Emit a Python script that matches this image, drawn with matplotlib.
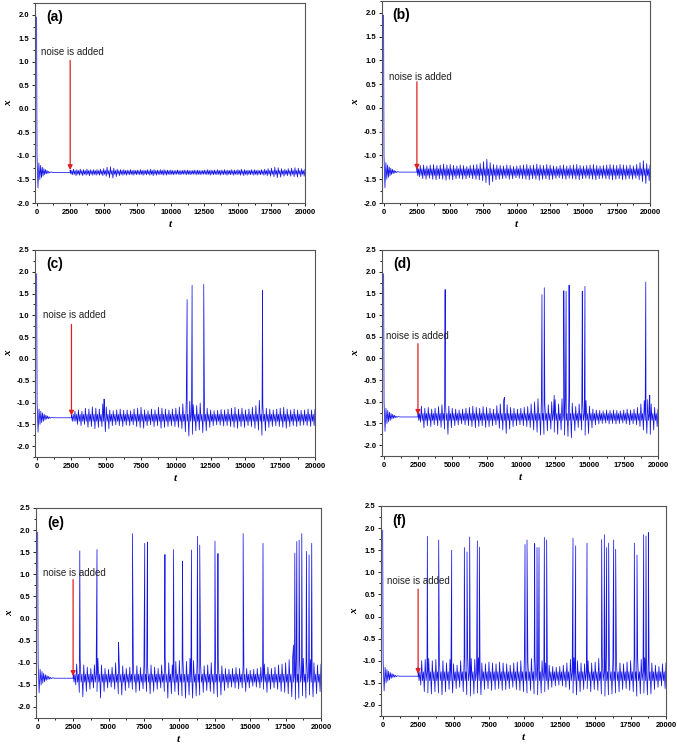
import numpy as np
import matplotlib
matplotlib.use("Agg")
import matplotlib.pyplot as plt
from matplotlib.ticker import MultipleLocator

plt.rcParams['font.family'] = ['Liberation Sans', 'DejaVu Sans']
plt.rcParams['font.weight'] = 'bold'

# start-up transient, the same in every panel (t < 2500)
trans_t = [0, 30, 100, 170, 240, 300, 360, 420, 480, 540, 600, 660, 720, 780,
           840, 900, 960, 1050, 1200, 2500]
trans_x = [1.95, -1.00, -1.68, -1.15, -1.50, -1.20, -1.46, -1.24, -1.43, -1.27,
           -1.40, -1.29, -1.38, -1.31, -1.37, -1.33, -1.36, -1.34, -1.35, -1.35]

base = -1.35
noise_t = 2500
win = 250  # width of one amplitude window

# outer swing amplitude of the noisy oscillation, one value per 250 t from t=2500
amp_a = [0.05, 0.07, 0.06, 0.07, 0.06, 0.07, 0.06, 0.06,
         0.06, 0.07, 0.08, 0.11, 0.12, 0.09, 0.07, 0.06,
         0.06, 0.05, 0.06, 0.05, 0.05, 0.06, 0.05, 0.06,
         0.07, 0.06, 0.05, 0.06, 0.06, 0.05, 0.05, 0.04,
         0.05, 0.04, 0.05, 0.05, 0.04, 0.05, 0.05, 0.04,
         0.05, 0.06, 0.05, 0.05, 0.06, 0.05, 0.06, 0.05,
         0.06, 0.05, 0.06, 0.07, 0.06, 0.05, 0.06, 0.06,
         0.05, 0.06, 0.07, 0.08, 0.09, 0.11, 0.10, 0.08,
         0.07, 0.08, 0.09, 0.10, 0.09, 0.08, 0.07]
amp_b = [0.10, 0.14, 0.15, 0.13, 0.15, 0.16, 0.14, 0.15,
         0.17, 0.15, 0.16, 0.14, 0.13, 0.15, 0.14, 0.12,
         0.14, 0.15, 0.16, 0.18, 0.22, 0.27, 0.20, 0.16,
         0.15, 0.14, 0.13, 0.15, 0.14, 0.12, 0.13, 0.14,
         0.15, 0.16, 0.14, 0.15, 0.17, 0.15, 0.14, 0.16,
         0.15, 0.13, 0.12, 0.14, 0.15, 0.13, 0.14, 0.15,
         0.16, 0.14, 0.13, 0.14, 0.15, 0.16, 0.14, 0.13,
         0.14, 0.15, 0.16, 0.15, 0.14, 0.16, 0.15, 0.14,
         0.15, 0.13, 0.16, 0.20, 0.24, 0.18, 0.15]
amp_c = [0.08, 0.15, 0.18, 0.15, 0.22, 0.20, 0.25, 0.22,
         0.20, 0.32, 0.25, 0.18, 0.16, 0.18, 0.20, 0.17,
         0.18, 0.16, 0.20, 0.22, 0.24, 0.18, 0.16, 0.20,
         0.18, 0.24, 0.22, 0.20, 0.18, 0.20, 0.22, 0.25,
         0.32, 0.42, 0.38, 0.30, 0.28, 0.34, 0.30, 0.22,
         0.18, 0.16, 0.17, 0.19, 0.18, 0.20, 0.22, 0.24,
         0.20, 0.22, 0.18, 0.20, 0.24, 0.28, 0.40, 0.30,
         0.22, 0.20, 0.18, 0.20, 0.22, 0.24, 0.20, 0.18,
         0.20, 0.18, 0.17, 0.18, 0.20, 0.18, 0.20]
amp_d = [0.12, 0.25, 0.20, 0.22, 0.18, 0.20, 0.24, 0.28,
         0.40, 0.25, 0.20, 0.18, 0.16, 0.18, 0.20, 0.22,
         0.25, 0.22, 0.20, 0.24, 0.22, 0.20, 0.18, 0.26,
         0.30, 0.38, 0.28, 0.22, 0.20, 0.18, 0.20, 0.22,
         0.24, 0.30, 0.35, 0.42, 0.40, 0.32, 0.28, 0.35,
         0.40, 0.30, 0.42, 0.45, 0.48, 0.32, 0.24, 0.30,
         0.42, 0.38, 0.25, 0.18, 0.16, 0.15, 0.14, 0.16,
         0.15, 0.16, 0.15, 0.14, 0.16, 0.18, 0.16, 0.18,
         0.22, 0.30, 0.38, 0.40, 0.30, 0.22, 0.18]
amp_e = [0.15, 0.32, 0.42, 0.30, 0.25, 0.22, 0.30, 0.45,
         0.30, 0.22, 0.20, 0.25, 0.35, 0.38, 0.28, 0.22,
         0.25, 0.32, 0.28, 0.24, 0.30, 0.35, 0.30, 0.25,
         0.22, 0.30, 0.45, 0.35, 0.30, 0.38, 0.40, 0.45,
         0.38, 0.45, 0.40, 0.38, 0.32, 0.28, 0.30, 0.35,
         0.42, 0.38, 0.28, 0.22, 0.20, 0.22, 0.24, 0.22,
         0.30, 0.22, 0.18, 0.20, 0.22, 0.25, 0.32, 0.25,
         0.22, 0.25, 0.30, 0.32, 0.35, 0.42, 0.48, 0.45,
         0.40, 0.45, 0.38, 0.42, 0.35, 0.30, 0.32]
amp_f = [0.20, 0.35, 0.38, 0.40, 0.35, 0.38, 0.42, 0.35,
         0.30, 0.38, 0.28, 0.25, 0.35, 0.42, 0.45, 0.40,
         0.38, 0.42, 0.30, 0.28, 0.32, 0.30, 0.28, 0.32,
         0.30, 0.28, 0.25, 0.30, 0.32, 0.35, 0.38, 0.32,
         0.40, 0.42, 0.38, 0.35, 0.30, 0.25, 0.22, 0.20,
         0.22, 0.25, 0.30, 0.38, 0.42, 0.35, 0.30, 0.28,
         0.35, 0.30, 0.32, 0.40, 0.45, 0.42, 0.40, 0.38,
         0.35, 0.30, 0.28, 0.32, 0.35, 0.45, 0.40, 0.38,
         0.42, 0.40, 0.30, 0.25, 0.22, 0.28, 0.30]

# half-width of the dense dark core of the band in each panel
core = {'a': 0.04, 'b': 0.07, 'c': 0.08, 'd': 0.08, 'e': 0.09, 'f': 0.10}

# spikes (t, peak value)
spikes_a = []
spikes_b = []
spikes_c = [(4845, -0.92), (10811, 1.36), (11169, 1.69), (12005, 1.71),
            (16229, 1.57)]
spikes_d = [(4482, 1.59), (8800, -0.90), (11542, 1.47), (11711, 1.63),
            (12434, -0.85), (13133, 1.56), (13301, 1.55), (13518, 1.69),
            (14482, 1.55), (14675, 1.66), (19108, 1.76), (19398, -0.85)]
spikes_e = [(2971, 1.53), (4187, 1.56), (5708, -0.54), (6690, 1.92),
            (7556, 1.70), (7743, 1.73), (8983, 1.45), (9591, 1.56),
            (10222, 1.30), (10854, 1.55), (11275, 1.86), (11439, 1.66),
            (12515, 1.75), (12725, 1.47), (14503, 1.92), (15906, 1.70),
            (18060, -0.60), (18152, 1.48), (18292, 1.74), (18456, 1.77),
            (18643, 1.92), (18971, 1.52), (19158, 1.44), (19345, 1.70)]
spikes_f = [(3153, 1.81), (3953, 1.73), (4871, 1.50), (5765, 1.56),
            (5953, 1.46), (6141, 1.80), (6682, 1.71), (6824, 1.57),
            (10047, 1.63), (10188, 1.73), (10729, 1.65), (10894, 1.56),
            (11035, 1.56), (11412, 1.79), (11576, 1.73), (13435, 1.77),
            (13624, 1.60), (14424, 1.66), (15459, 1.74), (15647, 1.85),
            (15812, 1.56), (15953, 1.66), (16306, 1.73), (16447, 1.52),
            (17765, 1.66), (17953, 1.39), (18424, 1.85), (18588, 1.82),
            (18753, 1.90)]

# "noise is added" note: text x, text y, arrow start y
notes = {'a': (300, 1.20, 1.03), 'b': (370, 0.65, 0.55),
         'c': (430, 1.00, 0.79), 'd': (190, 0.52, 0.34),
         'e': (400, 1.03, 0.88), 'f': (280, 0.81, 0.62)}

panels = [
    ('a', amp_a, spikes_a, (35, 305, 3, 203), (-2.0, 2.25)),
    ('b', amp_b, spikes_b, (382, 650, 1, 203), (-2.0, 2.25)),
    ('c', amp_c, spikes_c, (35, 315, 250, 457), (-2.25, 2.5)),
    ('d', amp_d, spikes_d, (382, 658, 250, 456), (-2.25, 2.5)),
    ('e', amp_e, spikes_e, (36, 321, 508, 718), (-2.25, 2.5)),
    ('f', amp_f, spikes_f, (381, 666, 506, 716), (-2.25, 2.5)),
]


def build_series(amp, c, spikes):
    t = list(trans_t)
    x = list(trans_x)
    for i, a in enumerate(amp):
        t0 = noise_t + win * i
        k = min(c, a)
        # one window: outer swing up, core swing, outer swing down
        t += [t0, t0 + win / 4, t0 + win / 2, t0 + 3 * win / 4]
        x += [base + a, base - k, base + k, base - a]
    for ts, xs in spikes:
        t.append(ts)
        x.append(xs)
    order = np.argsort(t, kind='stable')
    return np.array(t)[order], np.array(x)[order]


W, H = 677, 750
fig = plt.figure(figsize=(W / 100, H / 100), dpi=100)

for key, amp, spikes, (l, r, top, bot), ylim in panels:
    ax = fig.add_axes([l / W, 1 - bot / H, (r - l) / W, (bot - top) / H])
    t, x = build_series(amp, core[key], spikes)
    ax.plot(t, x, color='#1414e8', lw=0.55)

    tx, ty, ay = notes[key]
    ax.annotate('', xy=(noise_t, -1.30), xytext=(noise_t, ay),
                arrowprops=dict(arrowstyle='-|>', color='#e02020', lw=0.9,
                                mutation_scale=7, shrinkA=0, shrinkB=0))
    ax.text(tx, ty, 'noise is added', fontsize=7, fontweight='normal',
            va='center', ha='left', color='#222222')
    ax.text(0.04, 0.93, '(%s)' % key, transform=ax.transAxes, fontsize=10,
            fontweight='bold', va='center', ha='left')

    ax.set_xlim(-120, 20000)
    ax.xaxis.set_major_locator(MultipleLocator(2500))
    ax.xaxis.set_minor_locator(MultipleLocator(1250))
    yt = np.arange(-2.0, ylim[1] + 0.01, 0.5)
    ax.set_yticks(yt)
    ax.set_yticklabels(['%.1f' % v for v in yt])
    ax.yaxis.set_minor_locator(MultipleLocator(0.25))
    ax.set_ylim(*ylim)
    ax.tick_params(which='both', direction='out', labelsize=5.5, width=0.6,
                   pad=1.5)
    ax.tick_params(which='major', length=2.5)
    ax.tick_params(which='minor', length=1.5)
    for s in ax.spines.values():
        s.set_color('#555555')
        s.set_linewidth(0.8)
    ax.set_xlabel('t', family=['Liberation Serif'], style='italic',
                  fontweight='bold', fontsize=8, labelpad=3)
    ax.set_ylabel('x', family=['Liberation Serif'], style='italic',
                  fontweight='bold', fontsize=8, labelpad=2)

fig.savefig('out.png', dpi=100)
